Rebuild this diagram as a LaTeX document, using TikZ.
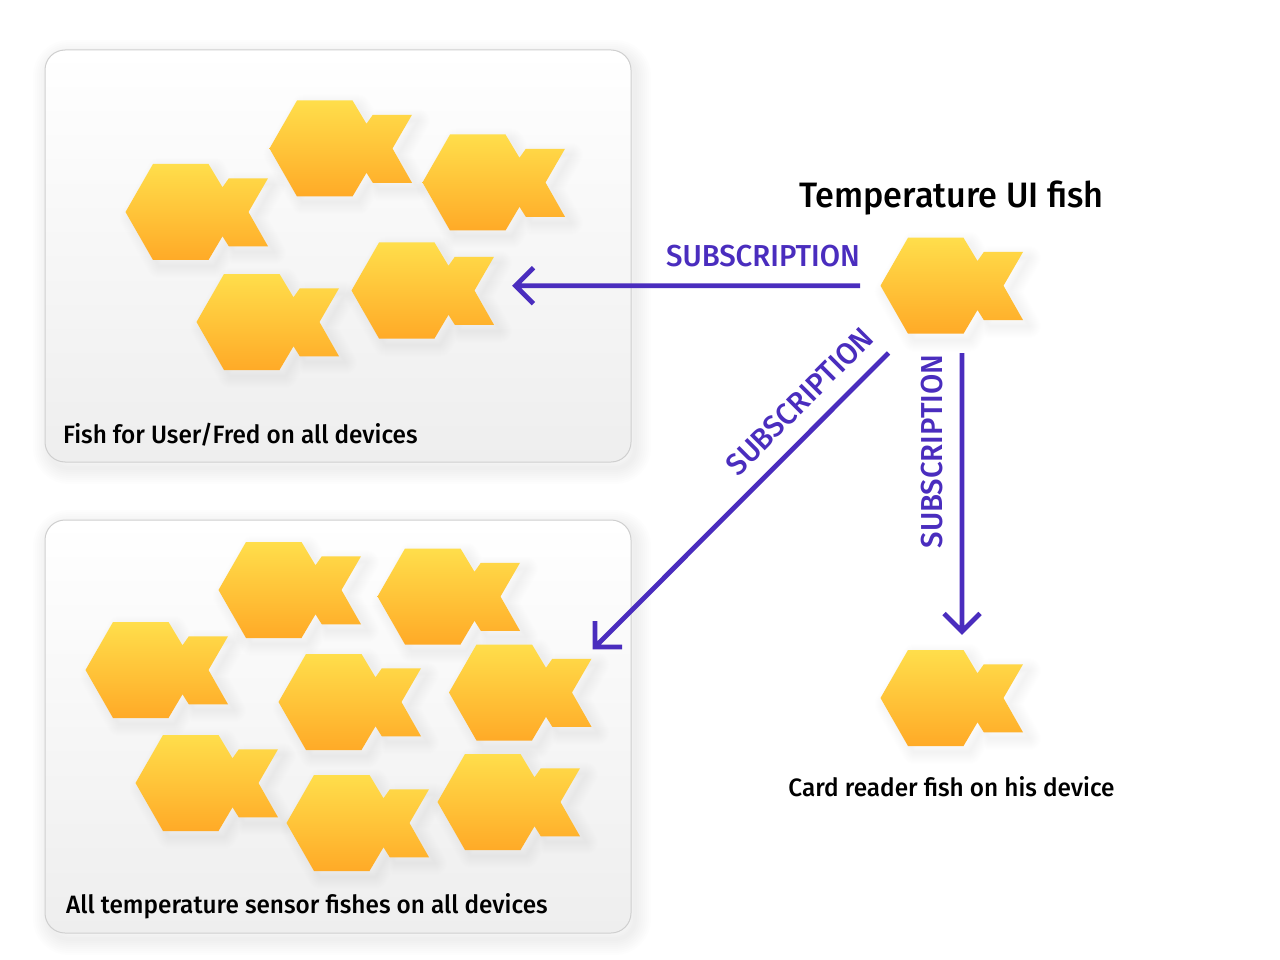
\documentclass[tikz,border=0pt]{standalone}
\usepackage{fontspec}
\setmainfont{Fira Sans Medium}[FakeStretch=0.97]
\usetikzlibrary{calc}
\definecolor{sub}{HTML}{4A2DBE}
\definecolor{fishtop}{HTML}{FFDE4B}
\definecolor{fishbot}{HTML}{FFAA27}
\definecolor{boxedge}{HTML}{CFCFCF}
\definecolor{boxbot}{HTML}{EEEEEE}
\newcommand{\fishpath}{(0,0) -- (27.5,-48) -- (83,-48) -- (97,-24.7) -- (103.3,-33.7) -- (142.5,-33.7) -- (123,0) -- (142.5,34.3) -- (103.3,34.3) -- (97,24.3) -- (83,48) -- (27.5,48) -- cycle}
\newcommand{\fish}[3]{%
  \begin{scope}[shift={(#2,#3)}]
    \begin{scope}[shift={(6,6)}]
      \foreach \w in {24,22,20,18,16,14,12,10,8,6,4,2}{
        \draw[line width=\w pt,line join=round,black,opacity=.0045] \fishpath;
      }
    \end{scope}
    \shade[top color=fishtop,bottom color=fishbot] \fishpath;
    \node[fishbody] (#1) at (71.25,0) {};
  \end{scope}}
\newcommand{\panel}[3]{%
  \foreach \w in {32,28,24,20,16,12,8,4}{
    \draw[line width=\w pt,black,opacity=.008,rounded corners=20pt] ($(#2)+(4,6)$) rectangle ($(#3)+(4,6)$);
  }
  \draw[boxedge,line width=1pt,rounded corners=20pt,top color=white,bottom color=boxbot] (#2) rectangle (#3);
  \node[panelbox] (#1) at ($(#2)!.5!(#3)$) {};}
\tikzset{
  x=1pt,y=-1pt,
  fishbody/.style={inner sep=0pt,minimum width=142pt,minimum height=96pt},
  panelbox/.style={inner sep=0pt},
  sublabel/.style={text=sub,font=\fontsize{30.3}{32}\selectfont,inner sep=0pt},
  caption/.style={text=black,font=\fontsize{25.1}{30}\selectfont,inner sep=0pt},
  subarrow/.style={draw=sub,line width=4.8pt,miter limit=4}
}
\begin{document}
\begin{tikzpicture}
\useasboundingbox (0,0) rectangle (1280,960);
\fill[white] (0,0) rectangle (1280,960);
\coordinate (p1a) at (45,50); \coordinate (p1b) at (631,462);
\coordinate (p2a) at (45,520); \coordinate (p2b) at (631,933);
\panel{userpanel}{p1a}{p1b}
\panel{sensorpanel}{p2a}{p2b}
\fish{a1}{125.5}{212}
\fish{a2}{269.5}{148.5}
\fish{a3}{422.5}{182.5}
\fish{a4}{196.5}{322}
\fish{a5}{351.5}{290.5}
\fish{b1}{218.5}{590}
\fish{b2}{377.5}{596.5}
\fish{b3}{85.5}{670}
\fish{b4}{278.5}{702}
\fish{b5}{449}{692.5}
\fish{b6}{135.5}{783}
\fish{b7}{286.5}{823}
\fish{b8}{437.5}{802}
\fish{ui}{880.5}{285.7}
\fish{card}{880.5}{698}
\node[caption,anchor=base west] (t1) at (63,443) {Fish for User/Fred on all devices};
\node[caption,anchor=base west] (t2) at (66,913) {All temperature sensor fishes on all devices};
\node[caption,anchor=base] (t3) at (951.5,796) {Card reader fish on his device};
\node[text=black,font=\fontsize{35.3}{40}\selectfont,inner sep=0pt,anchor=base] (title) at (951.5,208) {Temperature UI fish};
\node[sublabel,anchor=base] (s1) at (763,266) {SUBSCRIPTION};
\node[sublabel,rotate=45] (s2) at (799.5,401.5) {SUBSCRIPTION};
\node[sublabel,rotate=90] (s3) at (932,451.5) {SUBSCRIPTION};
\coordinate (e1s) at (860,285.7); \coordinate (e1e) at (515.5,285.7);
\coordinate (e2s) at (888.5,353); \coordinate (e2e) at (595,647);
\coordinate (e3s) at (962,353); \coordinate (e3e) at (962,631.5);
\draw[subarrow] (e1s) -- (e1e) ($(e1e)+(18,-18)$) -- (e1e) -- ($(e1e)+(18,18)$);
\draw[subarrow] (e2s) -- (e2e) ($(e2e)+(0,-26)$) -- (e2e) -- ($(e2e)+(27,0)$);
\draw[subarrow] (e3s) -- (e3e) ($(e3e)+(-18,-18)$) -- (e3e) -- ($(e3e)+(18,-18)$);
\end{tikzpicture}
\end{document}
